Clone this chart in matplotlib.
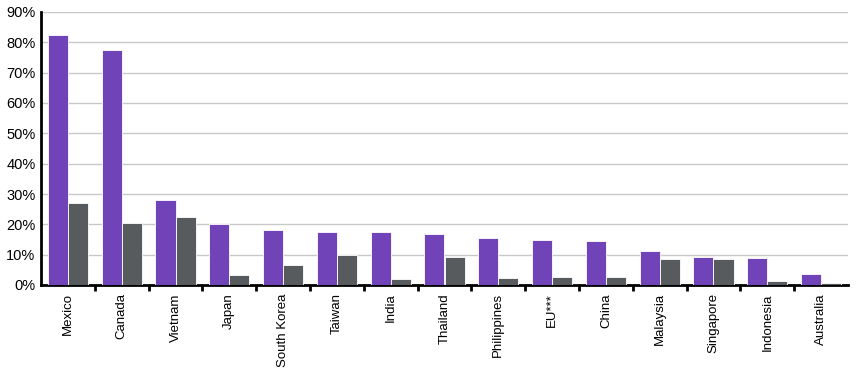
import numpy as np
import matplotlib.pyplot as plt
from matplotlib.ticker import FuncFormatter, FixedLocator

plt.rcParams['font.family'] = ['Liberation Sans', 'DejaVu Sans']

countries = ['Mexico', 'Canada', 'Vietnam', 'Japan', 'South Korea', 'Taiwan', 'India',
             'Thailand', 'Philippines', 'EU***', 'China', 'Malaysia', 'Singapore',
             'Indonesia', 'Australia']
series_a = [82.4, 77.5, 28.0, 20.1, 18.1, 17.6, 17.6, 16.8, 15.5, 14.8, 14.5, 11.2, 9.2, 8.9, 3.6]
series_b = [27.1, 20.4, 22.4, 3.3, 6.6, 9.9, 2.0, 9.2, 2.3, 2.6, 2.6, 8.6, 8.6, 1.3, 0.6]
yticks = [0, 10, 20, 30, 40, 50, 60, 70, 80, 90]

fig = plt.figure(figsize=(8.58, 3.70), dpi=100)
ax = fig.add_axes([41/858, 1 - 285/370, (848-41)/858, (285-12)/370])

x = np.arange(len(countries))
w = 0.375
ax.bar(x - w/2, series_a, w, color='#7044B8', edgecolor='white', linewidth=0.6, zorder=3)
ax.bar(x + w/2, series_b, w, color='#585B5E', edgecolor='white', linewidth=0.6, zorder=3)

ax.set_xlim(-0.5, len(countries) - 0.5)
ax.set_ylim(0, 90)
ax.set_yticks(yticks)
ax.yaxis.set_major_formatter(FuncFormatter(lambda v, p: f'{v:.0f}%'))
ax.grid(axis='y', color='#C8C8C8', linewidth=1, zorder=0)
ax.set_axisbelow(True)

ax.set_xticks(x)
ax.set_xticklabels(countries, rotation=90, fontsize=9.5)
ax.tick_params(axis='x', which='major', length=0, pad=6)
ax.xaxis.set_minor_locator(FixedLocator(np.arange(0.5, len(countries) - 0.5, 1.0)))
ax.tick_params(axis='x', which='minor', length=4, width=2, direction='out', color='black')
ax.tick_params(axis='y', length=0, labelsize=10.5, pad=4)

for s in ['top', 'right']:
    ax.spines[s].set_visible(False)
ax.spines['left'].set_linewidth(2)
ax.spines['bottom'].set_linewidth(2)

fig.savefig('out.png', dpi=100)
